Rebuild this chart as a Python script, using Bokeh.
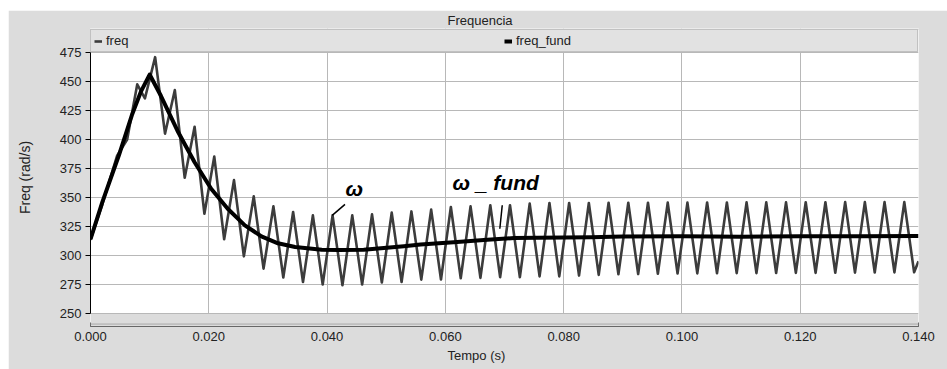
from bokeh.plotting import figure
from bokeh.models import (Range1d, FixedTicker, NumeralTickFormatter, BoxAnnotation, Span,
                          Legend, LegendItem, Label, Arrow, Spacer, ColumnDataSource, Title)
from bokeh.layouts import column, row
from bokeh.embed import file_html
from bokeh.resources import INLINE

# ---------------- data ----------------
x_ticks = [0.0, 0.02, 0.04, 0.06, 0.08, 0.10, 0.12, 0.14]
y_ticks = [250, 275, 300, 325, 350, 375, 400, 425, 450, 475]

# freq (rad/s): simulated speed, sampled at its extrema
freq_t = [0.0, 0.0020, 0.0045, 0.0062, 0.0079, 0.0092,
          0.01093, 0.0126, 0.01426, 0.01593, 0.0176, 0.01926, 0.02093, 0.0226,
          0.02426, 0.02593, 0.0276, 0.02926, 0.03093, 0.0326, 0.03426, 0.03593,
          0.0376, 0.03926, 0.04093, 0.0426, 0.04426, 0.04593, 0.0476, 0.04926,
          0.05093, 0.0526, 0.05426, 0.05593, 0.0576, 0.05926, 0.06093, 0.0626,
          0.06426, 0.06593, 0.0676, 0.06926, 0.07093, 0.0726, 0.07426, 0.07593,
          0.0776, 0.07926, 0.08093, 0.0826, 0.08426, 0.08593, 0.0876, 0.08926,
          0.09093, 0.0926, 0.09426, 0.09593, 0.0976, 0.09926, 0.10093, 0.1026,
          0.10426, 0.10593, 0.1076, 0.10926, 0.11093, 0.1126, 0.11426, 0.11593,
          0.1176, 0.11926, 0.12093, 0.1226, 0.12426, 0.12593, 0.1276, 0.12926,
          0.13093, 0.1326, 0.13426, 0.13593, 0.1376, 0.13926, 0.14]
freq_v = [313.5, 344.0, 386.0, 400.0, 447.5, 435.4,
          471.0, 405.0, 442.6, 367.0, 411.0, 336.0, 385.3, 314.0,
          365.0, 299.3, 351.0, 288.7, 342.4, 281.0, 337.5, 277.2,
          334.6, 275.0, 334.6, 274.4, 334.6, 275.0, 335.5, 276.7,
          337.0, 277.2, 338.0, 279.2, 339.6, 279.3, 341.8, 280.4,
          342.4, 280.7, 343.3, 281.3, 343.3, 281.3, 344.7, 282.0,
          345.3, 282.0, 345.3, 282.7, 345.3, 283.3, 345.5, 283.8,
          345.5, 284.0, 345.5, 284.3, 345.6, 284.5, 345.6, 284.6,
          345.7, 284.7, 345.7, 284.8, 345.8, 284.8, 345.8, 284.9,
          345.8, 285.0, 345.9, 285.0, 345.9, 285.1, 346.0, 285.2,
          346.0, 285.3, 346.0, 285.4, 346.0, 285.5, 295.0]

# freq_fund (rad/s): fundamental component
fund_t = [0.0, 0.0020, 0.0048, 0.0070, 0.0085, 0.0100, 0.0119, 0.0147, 0.0176,
          0.0204, 0.0232, 0.0261, 0.0289, 0.0317, 0.0346, 0.0391, 0.0420, 0.0462,
          0.0496, 0.0530, 0.0558, 0.0614, 0.0671, 0.0716, 0.0755, 0.0846, 0.0900,
          0.1000, 0.1100, 0.1200, 0.1300, 0.1400]
fund_v = [314.0, 346.0, 386.4, 421.0, 441.0, 456.0, 437.7, 407.6, 380.4,
          357.5, 340.3, 326.0, 316.5, 310.5, 307.3, 305.0, 304.8, 305.0,
          306.5, 308.0, 309.5, 311.5, 313.5, 315.0, 315.2, 315.8, 316.3,
          316.5, 316.2, 316.5, 316.5, 316.8]

title_text = "Frequencia"
x_label = "Tempo (s)"
y_label = "Freq (rad/s)"
series_names = ["freq", "freq_fund"]

# ---------------- styling ----------------
GRAY = "#dcdcdc"
GRID = "#b8b8b8"
FONT = "Liberation Sans"

p = figure(width=939, height=359, output_backend="svg", toolbar_location=None,
           x_range=Range1d(0, 0.14), y_range=Range1d(238.8, 495.69),
           min_border_left=82, min_border_right=29, min_border_top=18, min_border_bottom=43,
           background_fill_color="white", border_fill_color=GRAY, outline_line_color=None)

p.title.text = title_text
p.title.align = "left"
p.title.offset = 357
p.title.text_font = FONT
p.title.text_font_size = "13px"
p.title.text_font_style = "normal"
p.title.text_color = "#222222"
p.title.standoff = 1

src_f = ColumnDataSource(dict(t=freq_t, v=freq_v))
src_g = ColumnDataSource(dict(t=fund_t, v=fund_v))
r1 = p.line("t", "v", source=src_f, line_color="#3c3c3c", line_width=2.6, line_join="round")
r2 = p.line("t", "v", source=src_g, line_color="black", line_width=4, line_join="round")

# grid
p.xgrid.ticker = FixedTicker(ticks=x_ticks)
p.ygrid.ticker = FixedTicker(ticks=y_ticks)
p.xgrid.grid_line_color = GRID
p.ygrid.grid_line_color = GRID

# strip below the plot area (x axis sits lower than the 250 line)
p.add_layout(BoxAnnotation(top=249.5, fill_color=GRAY, fill_alpha=1.0, line_alpha=0))
p.add_layout(Span(location=240.9, dimension="width", line_color="#a8a8a8", line_width=1))
# strip above the plot area holding the legend, with the title bar's lower edge
p.add_layout(BoxAnnotation(bottom=475.6, fill_color=GRAY, fill_alpha=1.0, line_alpha=0))
p.add_layout(Span(location=494.9, dimension="width", line_color="#a8a8a8", line_width=1))

# axes
xa = p.xaxis[0]
xa.ticker = FixedTicker(ticks=x_ticks)
xa.formatter = NumeralTickFormatter(format="0.000")
xa.major_tick_in = 4
xa.major_tick_out = 0
xa.minor_tick_line_color = None
xa.axis_line_color = "#404040"
xa.major_tick_line_color = "#404040"
xa.major_label_text_font = FONT
xa.major_label_text_font_size = "13px"
xa.major_label_text_color = "#222222"
xa.major_label_standoff = 5

ya = p.yaxis[0]
ya.ticker = FixedTicker(ticks=y_ticks)
ya.bounds = (250, 475)
ya.major_tick_in = 0
ya.major_tick_out = 5
ya.minor_tick_line_color = None
ya.axis_line_color = "black"
ya.major_tick_line_color = "black"
ya.major_label_text_font = FONT
ya.major_label_text_font_size = "13px"
ya.major_label_text_color = "#222222"
ya.major_label_standoff = 4
ya.axis_label = y_label
ya.axis_label_text_font = FONT
ya.axis_label_text_font_size = "14px"
ya.axis_label_text_font_style = "normal"
ya.axis_label_text_color = "#222222"
ya.axis_label_standoff = 24

# x-axis title, centred on the whole panel as in the reference
p.add_layout(Title(text=x_label, align="left", offset=357, text_font=FONT,
                   text_font_size="13px", text_font_style="normal", text_color="#222222",
                   standoff=4), "below")

legend = Legend(items=[LegendItem(label=series_names[0], renderers=[r1]),
                       LegendItem(label=series_names[1], renderers=[r2])],
                orientation="horizontal", location=(0, 274), padding=3, spacing=0, margin=0,
                glyph_width=8, glyph_height=8, label_width=398, label_height=12, label_standoff=4,
                label_text_font=FONT, label_text_font_size="13px", label_text_color="#222222",
                background_fill_color="#e2e2e2", background_fill_alpha=1.0,
                border_line_color="#a0a0a0", border_line_width=1)
p.add_layout(legend, "center")

# annotations
p.add_layout(Label(x=0.0431, y=347.6, text="ω", text_font=FONT, text_font_size="21px",
                   text_font_style="bold italic", text_color="black"))
p.add_layout(Arrow(end=None, x_start=0.04303, y_start=344.1, x_end=0.04087, y_end=334.6,
                   line_color="black", line_width=1.5))
p.add_layout(Label(x=0.0612, y=353.4, text="ω _ fund", text_font=FONT, text_font_size="21px",
                   text_font_style="bold italic", text_color="black"))
p.add_layout(Arrow(end=None, x_start=0.06962, y_start=343.3, x_end=0.06921, y_end=323.1,
                   line_color="black", line_width=1.5))

layout = column(Spacer(height=10), row(Spacer(width=8), p))
open("out.html", "w").write(file_html(layout, INLINE))
